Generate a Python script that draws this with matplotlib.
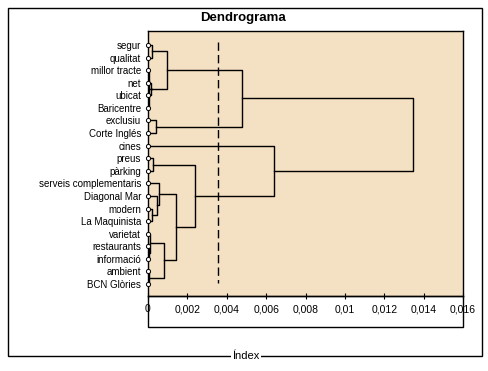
import numpy as np
import matplotlib.pyplot as plt
from matplotlib.patches import Rectangle

plt.rcParams['font.family'] = ['Liberation Sans', 'DejaVu Sans']

# leaves, top to bottom
leaves = ['segur', 'qualitat', 'millor tracte', 'net', 'ubicat', 'Baricentre',
          'exclusiu', 'Corte Inglés', 'cines', 'preus', 'pàrking',
          'serveis complementaris', 'Diagonal Mar', 'modern', 'La Maquinista',
          'varietat', 'restaurants', 'informació', 'ambient', 'BCN Glòries']

# merges: new cluster ids start at len(leaves)
merge_a = [2, 3, 20, 0, 23, 6, 24, 9, 13, 12, 11, 16, 15, 18, 32, 30, 27, 8, 26]
merge_b = [5, 4, 21, 1, 22, 7, 25, 10, 14, 28, 29, 17, 31, 19, 33, 34, 35, 36, 37]
merge_h = [0.00003, 0.00017, 0.00019, 0.00019, 0.00096, 0.00039, 0.00477,
           0.00027, 0.00019, 0.00044, 0.00057, 0.00006, 0.00008, 0.00007,
           0.00083, 0.00142, 0.0024, 0.0064, 0.01347]

cut_level = 0.00355
xticks = [0, 0.002, 0.004, 0.006, 0.008, 0.01, 0.012, 0.014, 0.016]
xticklabels = ['0', '0,002', '0,004', '0,006', '0,008', '0,01', '0,012', '0,014', '0,016']

W, H = 489, 371
fig = plt.figure(figsize=(W / 100, H / 100), dpi=100)

# outer frame
fig.patches.append(Rectangle((8 / W, 1 - 356 / H), 474 / W, 348 / H, transform=fig.transFigure,
                             fill=False, edgecolor='black', lw=1))
# white box under plot area
fig.patches.append(Rectangle((148 / W, 1 - 327 / H), 315 / W, 31 / H, transform=fig.transFigure,
                             fill=False, edgecolor='black', lw=1))

ax = fig.add_axes([148 / W, 1 - 296 / H, 315 / W, 265 / H])
ax.set_facecolor('#F4E1C3')

pos = list(range(len(leaves)))
hgt = [0.0] * len(leaves)
for a, b, h in zip(merge_a, merge_b, merge_h):
    ax.plot([hgt[a], h, h, hgt[b]], [pos[a], pos[a], pos[b], pos[b]], color='black', lw=1)
    pos.append((pos[a] + pos[b]) / 2)
    hgt.append(h)

ax.plot(np.zeros(len(leaves)), range(len(leaves)), 'o', ms=3, mfc='white', mec='black',
        mew=0.7, clip_on=False, zorder=5)

ax.plot([cut_level, cut_level], [-0.25, 18.9], color='black', lw=1, linestyle=(0, (6, 3)))

ax.set_xlim(0, 0.016)
ax.set_ylim(19.95, -1.11)
ax.set_yticks(range(len(leaves)))
ax.set_yticklabels(leaves, fontsize=7)
ax.tick_params(axis='y', length=0, pad=5)
ax.set_xticks(xticks)
ax.set_xticklabels(xticklabels, fontsize=7.5)
ax.tick_params(axis='x', direction='inout', length=4, pad=4)
for s in ax.spines.values():
    s.set_linewidth(1)

fig.text(243 / W, 1 - 18 / H, 'Dendrograma', ha='center', va='center', fontsize=9.5, fontweight='bold')
fig.text(246 / W, 1 - 356 / H, 'Índex', ha='center', va='center', fontsize=8,
         bbox=dict(facecolor='white', edgecolor='none', pad=1))

fig.savefig('out.png', dpi=100)
